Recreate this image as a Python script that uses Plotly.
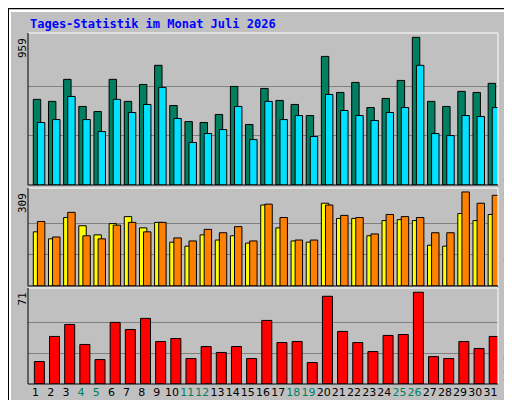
import plotly.graph_objects as go

days = list(range(1, 32))
weekend = [4, 5, 11, 12, 18, 19, 25, 26]
anfragen = [556,543,686,510,477,686,543,653,777,516,412,406,458,640,393,627,549,523,451,835,601,666,503,562,679,959,543,510,608,601,660]
dateien = [406,425,575,425,347,556,471,523,634,432,276,334,360,510,295,543,425,451,315,588,484,451,419,471,503,777,334,321,451,445,503]
besuche = [178,155,225,198,168,205,228,191,209,144,131,168,151,165,141,266,191,148,144,272,222,222,165,215,218,215,134,131,238,215,235]
rechner = [212,161,242,165,155,200,209,178,209,158,148,186,175,195,148,269,225,151,151,266,232,225,171,235,228,225,175,175,309,272,298]
kbytes = [17.4,36.8,46.1,30.6,18.9,47.7,42.2,50.8,32.9,35.2,19.7,29.0,24.4,29.0,19.7,49.2,32.1,32.9,16.6,67.9,40.7,32.1,25.1,37.6,38.3,71,21.2,19.7,32.9,27.5,36.8]
max_top, max_mid, max_bot = 959, 309, 71

fig = go.Figure()
line = dict(color="black", width=1)
fig.add_bar(x=days, y=anfragen, marker=dict(color="#008060", line=line), offset=-0.15, width=0.49, xaxis="x", yaxis="y")
fig.add_bar(x=days, y=dateien, marker=dict(color="#00E0FF", line=line), offset=0.12, width=0.49, xaxis="x", yaxis="y")
fig.add_bar(x=days, y=besuche, marker=dict(color="#FFFF00", line=line), offset=-0.15, width=0.49, xaxis="x2", yaxis="y2")
fig.add_bar(x=days, y=rechner, marker=dict(color="#FF8000", line=line), offset=0.12, width=0.49, xaxis="x2", yaxis="y2")
fig.add_bar(x=days, y=kbytes, marker=dict(color="#FF0000", line=line), offset=-0.08, width=0.66, xaxis="x3", yaxis="y3")

xd = [20/512, 490/512]
def yax(dom, mx, rng):
    return dict(domain=dom, range=[0, rng], tickvals=[mx/3, 2*mx/3], showticklabels=False, automargin=False,
                gridcolor="#808080", gridwidth=1, zeroline=False, showline=False, fixedrange=True)
def xax(anchor, labels):
    d = dict(domain=xd, range=[0.5, 31.5], anchor=anchor, showgrid=False, zeroline=False, automargin=False,
             showline=False, fixedrange=True, tickvals=days, ticks="", tickangle=0)
    if labels:
        d["ticktext"] = [f'<span style="color:{"#008060" if v in weekend else "black"}">{v}</span>' for v in days]
        d["tickfont"] = dict(family="DejaVu Sans", size=11)
    else:
        d["showticklabels"] = False
    return d

fig.update_layout(
    width=512, height=400, margin=dict(l=0, r=0, t=0, b=0, autoexpand=False),
    paper_bgcolor="#C0C0C0", plot_bgcolor="#C0C0C0", showlegend=False, barmode="overlay",
    xaxis=xax("y", False), xaxis2=xax("y2", False), xaxis3=xax("y3", True),
    yaxis=yax([1-177/400, 1-25/400], max_top, 987), yaxis2=yax([1-278/400, 1-180/400], max_mid, 322),
    yaxis3=yax([1-376/400, 1-280/400], max_bot, 74.3),
)

shapes = []
shapes.append(dict(type="rect", xref="paper", yref="paper", x0=0, x1=1, y0=0, y1=1, line=dict(color="black", width=2)))
shapes.append(dict(type="line", xref="paper", yref="paper", x0=2/512, x1=2/512, y0=2/400, y1=1-2/400, line=dict(color="white", width=2)))
shapes.append(dict(type="line", xref="paper", yref="paper", x0=2/512, x1=1-2/512, y0=1-3/400, y1=1-3/400, line=dict(color="white", width=2)))
shapes.append(dict(type="line", xref="paper", yref="paper", x0=1-6/512, x1=1-6/512, y0=6/400, y1=1-6/400, line=dict(color="#808080", width=3)))
shapes.append(dict(type="line", xref="paper", yref="paper", x0=6/512, x1=1-6/512, y0=6/400, y1=6/400, line=dict(color="#808080", width=3)))
for top, bot in [(25, 177), (180, 278), (280, 376)]:
    y0, y1 = 1-bot/400, 1-top/400
    shapes.append(dict(type="line", xref="paper", yref="paper", x0=xd[0], x1=xd[1], y0=y1, y1=y1, line=dict(color="white", width=1)))
    shapes.append(dict(type="line", xref="paper", yref="paper", x0=xd[1], x1=xd[1], y0=y0, y1=y1, line=dict(color="white", width=1)))
    shapes.append(dict(type="line", xref="paper", yref="paper", x0=xd[0], x1=xd[0], y0=y0, y1=y1, line=dict(color="black", width=1)))
    shapes.append(dict(type="line", xref="paper", yref="paper", x0=xd[0], x1=xd[1], y0=y0, y1=y0, line=dict(color="black", width=1)))
fig.update_layout(shapes=shapes)

mono = "DejaVu Sans Mono"
ann = [
    dict(text="<b>Tages-Statistik im Monat Juli 2026</b>", x=20/512, y=1-16/400, xanchor="left", yanchor="middle",
         font=dict(family=mono, size=12, color="#0000FF")),
    dict(text=str(max_top), x=14/512, y=1-28/400, textangle=-90, yanchor="top", font=dict(family=mono, size=11, color="black")),
    dict(text=str(max_mid), x=14/512, y=1-183/400, textangle=-90, yanchor="top", font=dict(family=mono, size=11, color="black")),
    dict(text=str(max_bot), x=14/512, y=1-283/400, textangle=-90, yanchor="top", font=dict(family=mono, size=11, color="black")),
    dict(text='<span style="color:#FF8000">Seiten</span>/<span style="color:#0000FF">Dateien</span><span style="color:#FFFF00">/</span><span style="color:#008060">Anfragen</span>',
         x=500/512, y=1-177/400, textangle=-90, yanchor="bottom", font=dict(family=mono, size=11)),
    dict(text="Rechner (IP-Adressen)", x=500/512, y=1-257/400, textangle=-90, yanchor="bottom",
         font=dict(family=mono, size=11, color="#FF8000")),
    dict(text="kB F", x=500/512, y=1-376/400, textangle=-90, yanchor="bottom", font=dict(family=mono, size=11, color="#FF0000")),
]
for a in ann:
    a.update(xref="paper", yref="paper", showarrow=False)
    a.setdefault("xanchor", "center")
fig.update_layout(annotations=ann)
fig.write_html("out.html")
